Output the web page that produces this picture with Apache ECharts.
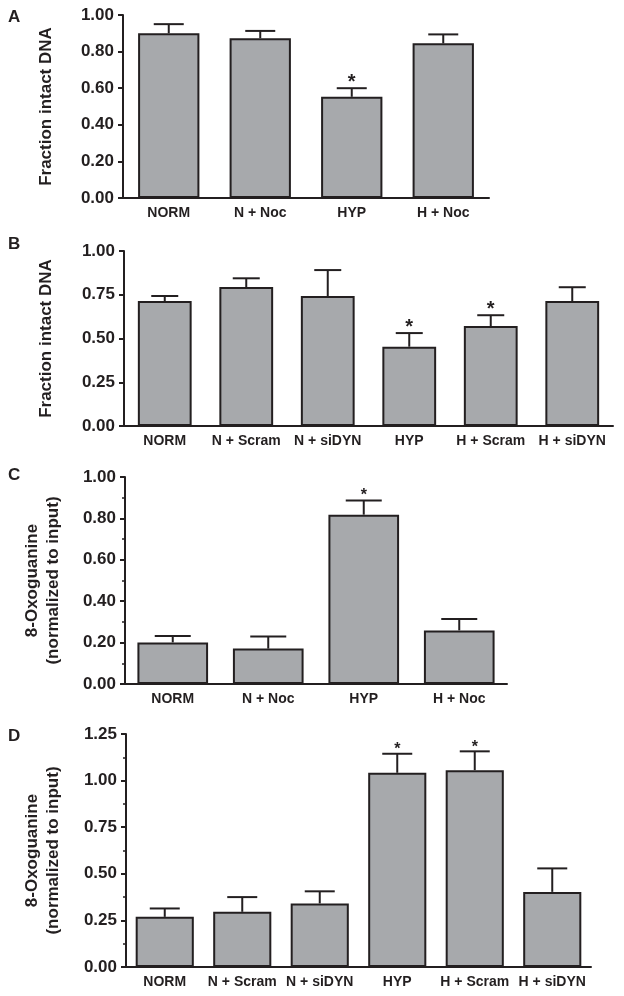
<!DOCTYPE html>
<html><head><meta charset="utf-8">
<script src="https://cdn.jsdelivr.net/npm/echarts@6/dist/echarts.min.js"></script>
<style>html,body{margin:0;padding:0;background:#fff}#c{width:624px;height:996px}</style>
</head><body><div id="c"></div>
<script>
// Panel A
var catsA = ['NORM', 'N + Noc', 'HYP', 'H + Noc'];
var valsA = [0.90, 0.873, 0.553, 0.845];
var semA = [0.05, 0.04, 0.047, 0.049];
var sigA = [0, 0, 1, 0];
var ticksA = {min: 0, max: 1.0, interval: 0.2};
// Panel B
var catsB = ['NORM', 'N + Scram', 'N + siDYN', 'HYP', 'H + Scram', 'H + siDYN'];
var valsB = [0.714, 0.794, 0.743, 0.453, 0.571, 0.714];
var semB = [0.029, 0.05, 0.148, 0.078, 0.062, 0.079];
var sigB = [0, 0, 0, 1, 1, 0];
var ticksB = {min: 0, max: 1.0, interval: 0.25};
// Panel C
var catsC = ['NORM', 'N + Noc', 'HYP', 'H + Noc'];
var valsC = [0.201, 0.171, 0.818, 0.259];
var semC = [0.031, 0.058, 0.068, 0.055];
var sigC = [0, 0, 1, 0];
var ticksC = {min: 0, max: 1.0, interval: 0.2};
// Panel D
var catsD = ['NORM', 'N + Scram', 'N + siDYN', 'HYP', 'H + Scram', 'H + siDYN'];
var valsD = [0.269, 0.296, 0.341, 1.042, 1.056, 0.403];
var semD = [0.045, 0.079, 0.065, 0.102, 0.101, 0.126];
var sigD = [0, 0, 0, 1, 1, 0];
var ticksD = {min: 0, max: 1.25, interval: 0.25};

var FONT = '"Liberation Sans", Arial, Helvetica, sans-serif';
var INK = '#231f20';
var BAR = '#a7a9ac';

var panels = [
  {letter: 'A', cats: catsA, vals: valsA, sem: semA, sig: sigA, ticks: ticksA,
   grid: {left: 123, top: 15, width: 366, height: 183}, title: 'Fraction intact DNA', nameGap: 66,
   barWidth: '67%', cap: 30, minor: false, starSize: 20, starOff: -4, letterPos: [8, 9]},
  {letter: 'B', cats: catsB, vals: valsB, sem: semB, sig: sigB, ticks: ticksB,
   grid: {left: 124, top: 251, width: 489, height: 175}, title: 'Fraction intact DNA', nameGap: 67,
   barWidth: '66%', cap: 27, minor: false, starSize: 20, starOff: -4, letterPos: [8, 236]},
  {letter: 'C', cats: catsC, vals: valsC, sem: semC, sig: sigC, ticks: ticksC,
   grid: {left: 125, top: 477, width: 382, height: 207}, title: '8-Oxoguanine\n(normalized to input)', nameGap: 61,
   barWidth: '74%', cap: 36, minor: true, starSize: 16, starOff: -3, letterPos: [8, 467]},
  {letter: 'D', cats: catsD, vals: valsD, sem: semD, sig: sigD, ticks: ticksD,
   grid: {left: 126, top: 734, width: 465, height: 233}, title: '8-Oxoguanine\n(normalized to input)', nameGap: 62,
   barWidth: '75%', cap: 30, minor: true, starSize: 16, starOff: -4, letterPos: [8, 728]}
];

var grids = [], xAxes = [], yAxes = [], series = [], graphics = [];
panels.forEach(function (p, i) {
  grids.push(p.grid);
  xAxes.push({
    type: 'category', gridIndex: i, data: p.cats,
    axisLine: {lineStyle: {color: INK, width: 2}},
    axisTick: {show: false},
    axisLabel: {color: INK, fontFamily: FONT, fontWeight: 'bold', fontSize: 14, margin: 8, interval: 0}
  });
  yAxes.push({
    type: 'value', gridIndex: i, min: p.ticks.min, max: p.ticks.max, interval: p.ticks.interval,
    name: p.title, nameLocation: 'middle', nameRotate: 90, nameGap: p.nameGap,
    nameTextStyle: {color: INK, fontFamily: FONT, fontWeight: 'bold', fontSize: 17, lineHeight: 21},
    axisLine: {show: true, lineStyle: {color: INK, width: 2}},
    axisTick: {show: true, inside: false, length: 5, lineStyle: {color: INK, width: 2}},
    minorTick: {show: p.minor, splitNumber: 2, length: 3, lineStyle: {color: INK, width: 1.5}},
    splitLine: {show: false},
    axisLabel: {color: INK, fontFamily: FONT, fontWeight: 'bold', fontSize: 17, margin: 9,
      formatter: function (v) { return v.toFixed(2); }}
  });
  series.push({
    type: 'bar', xAxisIndex: i, yAxisIndex: i, data: p.vals, barWidth: p.barWidth,
    itemStyle: {color: BAR, borderColor: INK, borderWidth: 2}, silent: true, z: 2
  });
  var errData = p.vals.map(function (v, k) { return [k, v, v + p.sem[k], p.sig[k]]; });
  series.push({
    type: 'custom', xAxisIndex: i, yAxisIndex: i, data: errData, silent: true, z: 3,
    encode: {x: 0, y: [1, 2]},
    renderItem: (function (cap, starSize, starOff) {
      return function (params, api) {
        var x = api.value(0);
        var p0 = api.coord([x, api.value(1)]);
        var p1 = api.coord([x, api.value(2)]);
        var children = [
          {type: 'line', shape: {x1: p0[0], y1: p0[1], x2: p1[0], y2: p1[1]}, style: {stroke: INK, lineWidth: 2}},
          {type: 'line', shape: {x1: p1[0] - cap / 2, y1: p1[1], x2: p1[0] + cap / 2, y2: p1[1]}, style: {stroke: INK, lineWidth: 2}}
        ];
        if (api.value(3)) {
          children.push({type: 'text', x: p1[0], y: p1[1] - starOff,
            style: {text: '*', fill: INK, font: 'bold ' + starSize + 'px ' + FONT, align: 'center', verticalAlign: 'bottom'}});
        }
        return {type: 'group', children: children};
      };
    })(p.cap, p.starSize, p.starOff)
  });
  graphics.push({type: 'text', left: p.letterPos[0], top: p.letterPos[1],
    style: {text: p.letter, fill: INK, font: 'bold 17px ' + FONT}});
});

var chart = echarts.init(document.getElementById('c'), null, {renderer: 'canvas'});
chart.setOption({
  animation: false,
  backgroundColor: '#ffffff',
  grid: grids, xAxis: xAxes, yAxis: yAxes, series: series, graphic: graphics
});
</script>
</body></html>
